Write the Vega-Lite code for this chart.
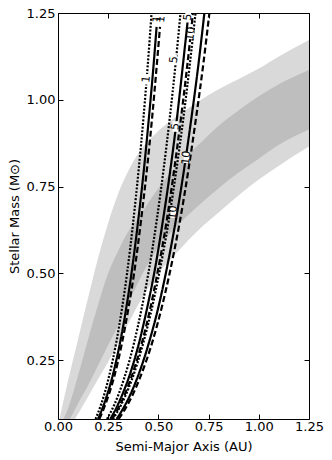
{
  "$schema": "https://vega.github.io/schema/vega-lite/v6.json",
  "width": 251,
  "height": 406,
  "autosize": {"type": "none"},
  "padding": {"left": 58, "top": 13, "right": 23, "bottom": 41},
  "config": {
    "font": "DejaVu Sans",
    "view": {"stroke": "black", "strokeWidth": 1},
    "axis": {"grid": false, "domain": false, "tickColor": "black", "tickSize": -5, "tickWidth": 1, "labelColor": "black", "titleColor": "black", "labelFont": "DejaVu Sans", "titleFont": "DejaVu Sans", "labelFontSize": 13, "titleFontSize": 13, "titleFontWeight": "normal"}
  },
  "datasets": {
    "hz": [
      {"a": 0, "ll": 0.06, "dl": 0.05, "dr": 0.02, "lr": 0.0},
      {"a": 0.05, "ll": 0.19, "dl": 0.11, "dr": 0.07, "lr": 0.045},
      {"a": 0.1, "ll": 0.31, "dl": 0.205, "dr": 0.125, "lr": 0.095},
      {"a": 0.15, "ll": 0.43, "dl": 0.31, "dr": 0.177, "lr": 0.145},
      {"a": 0.2, "ll": 0.545, "dl": 0.41, "dr": 0.235, "lr": 0.195},
      {"a": 0.25, "ll": 0.645, "dl": 0.5, "dr": 0.293, "lr": 0.245},
      {"a": 0.3, "ll": 0.73, "dl": 0.565, "dr": 0.35, "lr": 0.3},
      {"a": 0.35, "ll": 0.795, "dl": 0.62, "dr": 0.415, "lr": 0.355},
      {"a": 0.4, "ll": 0.845, "dl": 0.66, "dr": 0.475, "lr": 0.41},
      {"a": 0.5, "ll": 0.91, "dl": 0.745, "dr": 0.575, "lr": 0.5},
      {"a": 0.6, "ll": 0.955, "dl": 0.815, "dr": 0.64, "lr": 0.565},
      {"a": 0.7, "ll": 0.995, "dl": 0.87, "dr": 0.695, "lr": 0.625},
      {"a": 0.8, "ll": 1.03, "dl": 0.925, "dr": 0.745, "lr": 0.675},
      {"a": 0.9, "ll": 1.06, "dl": 0.97, "dr": 0.79, "lr": 0.725},
      {"a": 1.0, "ll": 1.09, "dl": 1.01, "dr": 0.83, "lr": 0.77},
      {"a": 1.1, "ll": 1.125, "dl": 1.045, "dr": 0.87, "lr": 0.81},
      {"a": 1.25, "ll": 1.172, "dl": 1.086, "dr": 0.914, "lr": 0.865}
    ],
    "curves": [
      {"id": "dot1", "style": "dotted", "M": 0.08, "a": 0.187}, {"id": "dot1", "style": "dotted", "M": 0.1, "a": 0.201}, {"id": "dot1", "style": "dotted", "M": 0.15, "a": 0.230}, {"id": "dot1", "style": "dotted", "M": 0.2, "a": 0.253}, {"id": "dot1", "style": "dotted", "M": 0.3, "a": 0.290}, {"id": "dot1", "style": "dotted", "M": 0.4, "a": 0.319}, {"id": "dot1", "style": "dotted", "M": 0.5, "a": 0.344}, {"id": "dot1", "style": "dotted", "M": 0.65, "a": 0.375}, {"id": "dot1", "style": "dotted", "M": 0.8, "a": 0.402}, {"id": "dot1", "style": "dotted", "M": 0.95, "a": 0.426}, {"id": "dot1", "style": "dotted", "M": 1.1, "a": 0.447}, {"id": "dot1", "style": "dotted", "M": 1.25, "a": 0.466},
      {"id": "sol1", "style": "solid", "M": 0.08, "a": 0.199}, {"id": "sol1", "style": "solid", "M": 0.1, "a": 0.214}, {"id": "sol1", "style": "solid", "M": 0.15, "a": 0.245}, {"id": "sol1", "style": "solid", "M": 0.2, "a": 0.270}, {"id": "sol1", "style": "solid", "M": 0.3, "a": 0.309}, {"id": "sol1", "style": "solid", "M": 0.4, "a": 0.340}, {"id": "sol1", "style": "solid", "M": 0.5, "a": 0.366}, {"id": "sol1", "style": "solid", "M": 0.65, "a": 0.399}, {"id": "sol1", "style": "solid", "M": 0.8, "a": 0.428}, {"id": "sol1", "style": "solid", "M": 0.95, "a": 0.453}, {"id": "sol1", "style": "solid", "M": 1.1, "a": 0.476}, {"id": "sol1", "style": "solid", "M": 1.21, "a": 0.491},
      {"id": "das1", "style": "dashed", "M": 0.08, "a": 0.206}, {"id": "das1", "style": "dashed", "M": 0.1, "a": 0.221}, {"id": "das1", "style": "dashed", "M": 0.15, "a": 0.253}, {"id": "das1", "style": "dashed", "M": 0.2, "a": 0.279}, {"id": "das1", "style": "dashed", "M": 0.3, "a": 0.319}, {"id": "das1", "style": "dashed", "M": 0.4, "a": 0.351}, {"id": "das1", "style": "dashed", "M": 0.5, "a": 0.379}, {"id": "das1", "style": "dashed", "M": 0.65, "a": 0.413}, {"id": "das1", "style": "dashed", "M": 0.8, "a": 0.443}, {"id": "das1", "style": "dashed", "M": 0.95, "a": 0.469}, {"id": "das1", "style": "dashed", "M": 1.1, "a": 0.492}, {"id": "das1", "style": "dashed", "M": 1.21, "a": 0.508},
      {"id": "dot5", "style": "dotted", "M": 0.08, "a": 0.244}, {"id": "dot5", "style": "dotted", "M": 0.1, "a": 0.263}, {"id": "dot5", "style": "dotted", "M": 0.15, "a": 0.301}, {"id": "dot5", "style": "dotted", "M": 0.2, "a": 0.331}, {"id": "dot5", "style": "dotted", "M": 0.3, "a": 0.379}, {"id": "dot5", "style": "dotted", "M": 0.4, "a": 0.417}, {"id": "dot5", "style": "dotted", "M": 0.5, "a": 0.450}, {"id": "dot5", "style": "dotted", "M": 0.65, "a": 0.491}, {"id": "dot5", "style": "dotted", "M": 0.8, "a": 0.526}, {"id": "dot5", "style": "dotted", "M": 0.95, "a": 0.557}, {"id": "dot5", "style": "dotted", "M": 1.1, "a": 0.585}, {"id": "dot5", "style": "dotted", "M": 1.25, "a": 0.610},
      {"id": "sol5", "style": "solid", "M": 0.08, "a": 0.260}, {"id": "sol5", "style": "solid", "M": 0.1, "a": 0.280}, {"id": "sol5", "style": "solid", "M": 0.15, "a": 0.320}, {"id": "sol5", "style": "solid", "M": 0.2, "a": 0.353}, {"id": "sol5", "style": "solid", "M": 0.3, "a": 0.404}, {"id": "sol5", "style": "solid", "M": 0.4, "a": 0.444}, {"id": "sol5", "style": "solid", "M": 0.5, "a": 0.479}, {"id": "sol5", "style": "solid", "M": 0.65, "a": 0.522}, {"id": "sol5", "style": "solid", "M": 0.8, "a": 0.560}, {"id": "sol5", "style": "solid", "M": 0.95, "a": 0.593}, {"id": "sol5", "style": "solid", "M": 1.1, "a": 0.622}, {"id": "sol5", "style": "solid", "M": 1.25, "a": 0.650},
      {"id": "das5", "style": "dashed", "M": 0.08, "a": 0.269}, {"id": "das5", "style": "dashed", "M": 0.1, "a": 0.290}, {"id": "das5", "style": "dashed", "M": 0.15, "a": 0.332}, {"id": "das5", "style": "dashed", "M": 0.2, "a": 0.365}, {"id": "das5", "style": "dashed", "M": 0.3, "a": 0.418}, {"id": "das5", "style": "dashed", "M": 0.4, "a": 0.460}, {"id": "das5", "style": "dashed", "M": 0.5, "a": 0.495}, {"id": "das5", "style": "dashed", "M": 0.65, "a": 0.541}, {"id": "das5", "style": "dashed", "M": 0.8, "a": 0.579}, {"id": "das5", "style": "dashed", "M": 0.95, "a": 0.613}, {"id": "das5", "style": "dashed", "M": 1.1, "a": 0.644}, {"id": "das5", "style": "dashed", "M": 1.25, "a": 0.672},
      {"id": "dot10", "style": "dotted", "M": 0.08, "a": 0.274}, {"id": "dot10", "style": "dotted", "M": 0.1, "a": 0.295}, {"id": "dot10", "style": "dotted", "M": 0.15, "a": 0.338}, {"id": "dot10", "style": "dotted", "M": 0.2, "a": 0.372}, {"id": "dot10", "style": "dotted", "M": 0.3, "a": 0.425}, {"id": "dot10", "style": "dotted", "M": 0.4, "a": 0.468}, {"id": "dot10", "style": "dotted", "M": 0.5, "a": 0.504}, {"id": "dot10", "style": "dotted", "M": 0.65, "a": 0.551}, {"id": "dot10", "style": "dotted", "M": 0.8, "a": 0.590}, {"id": "dot10", "style": "dotted", "M": 0.95, "a": 0.625}, {"id": "dot10", "style": "dotted", "M": 1.1, "a": 0.656}, {"id": "dot10", "style": "dotted", "M": 1.25, "a": 0.685},
      {"id": "sol10", "style": "solid", "M": 0.08, "a": 0.292}, {"id": "sol10", "style": "solid", "M": 0.1, "a": 0.314}, {"id": "sol10", "style": "solid", "M": 0.15, "a": 0.360}, {"id": "sol10", "style": "solid", "M": 0.2, "a": 0.396}, {"id": "sol10", "style": "solid", "M": 0.3, "a": 0.453}, {"id": "sol10", "style": "solid", "M": 0.4, "a": 0.499}, {"id": "sol10", "style": "solid", "M": 0.5, "a": 0.537}, {"id": "sol10", "style": "solid", "M": 0.65, "a": 0.586}, {"id": "sol10", "style": "solid", "M": 0.8, "a": 0.628}, {"id": "sol10", "style": "solid", "M": 0.95, "a": 0.665}, {"id": "sol10", "style": "solid", "M": 1.1, "a": 0.699}, {"id": "sol10", "style": "solid", "M": 1.25, "a": 0.729},
      {"id": "das10", "style": "dashed", "M": 0.08, "a": 0.302}, {"id": "das10", "style": "dashed", "M": 0.1, "a": 0.325}, {"id": "das10", "style": "dashed", "M": 0.15, "a": 0.372}, {"id": "das10", "style": "dashed", "M": 0.2, "a": 0.409}, {"id": "das10", "style": "dashed", "M": 0.3, "a": 0.469}, {"id": "das10", "style": "dashed", "M": 0.4, "a": 0.516}, {"id": "das10", "style": "dashed", "M": 0.5, "a": 0.556}, {"id": "das10", "style": "dashed", "M": 0.65, "a": 0.607}, {"id": "das10", "style": "dashed", "M": 0.8, "a": 0.650}, {"id": "das10", "style": "dashed", "M": 0.95, "a": 0.688}, {"id": "das10", "style": "dashed", "M": 1.1, "a": 0.723}, {"id": "das10", "style": "dashed", "M": 1.25, "a": 0.754}
    ],
    "labels": [
      {"a": 0.441, "M": 1.059, "t": "1"},
      {"a": 0.494, "M": 1.232, "t": "1"},
      {"a": 0.514, "M": 1.232, "t": "1"},
      {"a": 0.578, "M": 1.115, "t": "5"},
      {"a": 0.648, "M": 1.238, "t": "5"},
      {"a": 0.662, "M": 1.19, "t": "10"},
      {"a": 0.585, "M": 0.923, "t": "5"},
      {"a": 0.640, "M": 0.833, "t": "10"},
      {"a": 0.574, "M": 0.675, "t": "10"}
    ]
  },
  "resolve": {"axis": {"x": "independent", "y": "independent"}},
  "layer": [
    {
      "data": {"name": "hz"},
      "mark": {"type": "area", "color": "#d9d9d9", "clip": true, "interpolate": "monotone"},
      "encoding": {
        "x": {"field": "a", "type": "quantitative", "scale": {"domain": [0, 1.25], "nice": false},
          "axis": {"orient": "bottom", "title": "Semi-Major Axis (AU)", "values": [0, 0.25, 0.5, 0.75, 1.0, 1.25], "format": ".2f", "labelPadding": 6, "titlePadding": 7, "labelFontSize": 13, "titleFontSize": 13, "labelFlush": false}},
        "y": {"field": "ll", "type": "quantitative", "scale": {"domain": [0.08, 1.25], "nice": false, "zero": false},
          "axis": {"orient": "left", "title": "Stellar Mass (M⊙)", "values": [0.25, 0.5, 0.75, 1.0, 1.25], "format": ".2f", "labelPadding": 8, "titlePadding": 5, "labelFontSize": 13, "titleFontSize": 13, "labelFlush": false}},
        "y2": {"field": "lr"}
      }
    },
    {
      "data": {"name": "hz"},
      "mark": {"type": "area", "color": "#bebebe", "clip": true, "interpolate": "monotone"},
      "encoding": {
        "x": {"field": "a", "type": "quantitative", "axis": {"orient": "top", "labels": false, "title": null, "values": [0, 0.25, 0.5, 0.75, 1.0, 1.25], "tickSize": -5}},
        "y": {"field": "dl", "type": "quantitative", "axis": {"orient": "right", "labels": false, "title": null, "values": [0.25, 0.5, 0.75, 1.0, 1.25], "tickSize": -5}},
        "y2": {"field": "dr"}
      }
    },
    {
      "data": {"name": "curves"},
      "mark": {"type": "line", "color": "black", "strokeWidth": 2.2, "clip": true, "interpolate": "monotone", "strokeCap": "butt"},
      "encoding": {
        "x": {"field": "a", "type": "quantitative", "axis": null},
        "y": {"field": "M", "type": "quantitative", "axis": null},
        "detail": {"field": "id"},
        "order": {"field": "M", "type": "quantitative"},
        "strokeDash": {"field": "style", "type": "nominal", "scale": {"domain": ["solid", "dotted", "dashed"], "range": [[1, 0], [2, 1.6], [6, 3]]}, "legend": null}
      }
    },
    {
      "data": {"name": "labels"},
      "mark": {"type": "point", "shape": "M-0.4,-0.75L0.4,-0.75L0.4,0.75L-0.4,0.75Z", "filled": true, "color": "white", "opacity": 1, "size": 200, "strokeWidth": 0, "clip": true},
      "encoding": {
        "x": {"field": "a", "type": "quantitative", "axis": null},
        "y": {"field": "M", "type": "quantitative", "axis": null}
      }
    },
    {
      "data": {"name": "labels"},
      "mark": {"type": "text", "font": "DejaVu Sans", "fontSize": 11, "angle": 275, "color": "black", "align": "center", "baseline": "middle"},
      "encoding": {
        "x": {"field": "a", "type": "quantitative", "axis": null},
        "y": {"field": "M", "type": "quantitative", "axis": null},
        "text": {"field": "t"}
      }
    }
  ]
}
